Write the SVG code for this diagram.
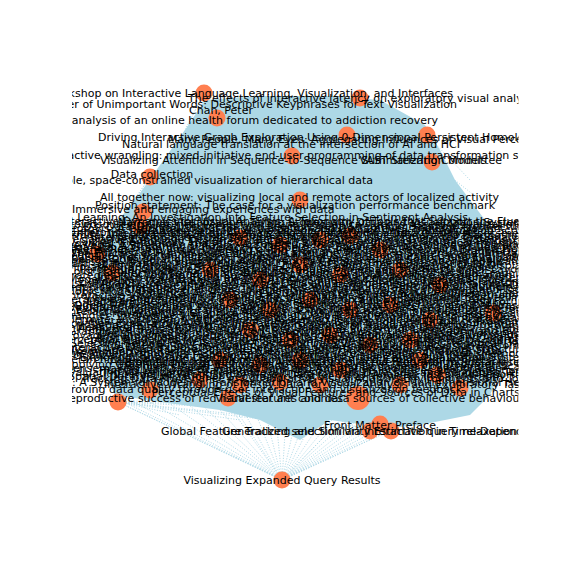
<svg xmlns="http://www.w3.org/2000/svg" width="576" height="576" viewBox="0 0 576 576">
<defs>
<clipPath id="ax"><rect x="72" y="69" width="446.4" height="443.5"/></clipPath>
<style>
.e{fill:none;stroke:#add8e6;stroke-width:1;stroke-dasharray:1 1.65}
.hull{fill:#add8e6;stroke:none}
.n{fill:#ff7f50}
text{font-family:"DejaVu Sans","Liberation Sans",sans-serif;font-size:11px;fill:#000}
.s{text-anchor:start}.m{text-anchor:middle}.r{text-anchor:end}
</style>
</defs>
<rect width="576" height="576" fill="#fff"/>
<g clip-path="url(#ax)">
<g id="edges">
<path class="hull" d="M205 100 L260 96 L330 96 L380 100 L425 125 L440 150 L455 180 L485 220 L505 260 L512 310 L506 360 L490 395 L470 415 L420 425 L390 428 L330 420 L300 440 L260 420 L220 410 L160 402 L115 395 L98 360 L96 300 L92 262 L110 230 L135 200 L160 165 L185 130 Z"/>
<path class="e" d="M282 480L110 395 M282 480L130 400 M282 480L150 402 M282 480L170 404 M282 480L190 406 M282 480L205 408 M282 480L220 410 M282 480L232 410 M282 480L244 412 M282 480L256 414 M282 480L266 416 M282 480L276 418 M282 480L286 418 M282 480L296 418 M282 480L306 416 M282 480L316 414 M282 480L328 412 M282 480L340 410 M282 480L352 408 M282 480L364 406 M282 480L378 404 M282 480L392 402 M282 480L408 400 M282 480L425 398 M282 480L442 396 M282 480L460 394 M282 480L480 390 M282 480L500 380 M282 480L118 402 M282 480L228 398 M282 480L360 400"/>
<path class="e" d="M118 402L200 398 M118 402L260 405 M118 402L320 412 M118 402L370 432 M118 402L390 430 M118 402L282 480 M118 402L240 420 M118 402L180 415"/>
<path class="e" d="M390 430L320 400 M390 430L350 395 M390 430L380 390 M390 430L410 395 M390 430L440 392 M390 430L470 400 M390 430L500 370 M370 432L300 405 M370 432L260 410 M370 432L200 405 M380 426L330 405 M380 426L420 398 M380 426L460 395"/>
<path class="e" d="M204 93L180 140 M204 93L165 170 M204 93L230 140 M204 93L270 130 M204 93L310 120 M360 98L330 130 M360 98L400 130 M360 98L440 140 M360 98L300 130 M217 118L170 160 M217 118L250 150 M427 135L470 180 M432 162L480 200 M432 162L500 240 M150 177L120 220 M150 177L100 250 M97 253L120 280 M112 273L130 300 M97 253L110 340 M112 273L105 370"/>
</g>
<g id="nodes">
<circle class="n" cx="204" cy="93" r="8.5"/>
<circle class="n" cx="360" cy="98" r="8.5"/>
<circle class="n" cx="217" cy="118" r="8.5"/>
<circle class="n" cx="347" cy="135" r="8.5"/>
<circle class="n" cx="427" cy="135" r="8.5"/>
<circle class="n" cx="432" cy="162" r="8.5"/>
<circle class="n" cx="292" cy="156" r="8.5"/>
<circle class="n" cx="150" cy="177" r="8.5"/>
<circle class="n" cx="300" cy="200" r="8.5"/>
<circle class="n" cx="143" cy="212" r="8.5"/>
<circle class="n" cx="140" cy="226" r="8.5"/>
<circle class="n" cx="97" cy="254" r="8.5"/>
<circle class="n" cx="112" cy="273" r="8.5"/>
<circle class="n" cx="118" cy="402" r="8.5"/>
<circle class="n" cx="150" cy="390" r="8.5"/>
<circle class="n" cx="228" cy="398" r="8.5"/>
<circle class="n" cx="358" cy="398" r="12"/>
<circle class="n" cx="380" cy="424" r="8.5"/>
<circle class="n" cx="370" cy="431" r="8.5"/>
<circle class="n" cx="391" cy="431" r="8.5"/>
<circle class="n" cx="282" cy="480" r="8.5"/>
<circle class="n" cx="240" cy="238" r="8.5"/><circle class="n" cx="280" cy="245" r="8.5"/><circle class="n" cx="320" cy="240" r="8.5"/><circle class="n" cx="350" cy="236" r="8.5"/><circle class="n" cx="380" cy="250" r="8.5"/>
<circle class="n" cx="210" cy="270" r="8.5"/><circle class="n" cx="260" cy="280" r="8.5"/><circle class="n" cx="300" cy="265" r="8.5"/><circle class="n" cx="340" cy="275" r="8.5"/><circle class="n" cx="400" cy="270" r="8.5"/><circle class="n" cx="440" cy="285" r="8.5"/>
<circle class="n" cx="230" cy="300" r="8.5"/><circle class="n" cx="270" cy="310" r="8.5"/><circle class="n" cx="310" cy="300" r="8.5"/><circle class="n" cx="350" cy="310" r="8.5"/><circle class="n" cx="390" cy="305" r="8.5"/><circle class="n" cx="430" cy="320" r="8.5"/><circle class="n" cx="493" cy="313" r="8.5"/>
<circle class="n" cx="250" cy="330" r="8.5"/><circle class="n" cx="290" cy="340" r="8.5"/><circle class="n" cx="330" cy="335" r="8.5"/><circle class="n" cx="370" cy="345" r="8.5"/><circle class="n" cx="410" cy="340" r="8.5"/>
<circle class="n" cx="220" cy="360" r="8.5"/><circle class="n" cx="260" cy="365" r="8.5"/><circle class="n" cx="300" cy="360" r="8.5"/><circle class="n" cx="340" cy="370" r="8.5"/><circle class="n" cx="420" cy="360" r="8.5"/><circle class="n" cx="437" cy="375" r="8.5"/>
<circle class="n" cx="200" cy="380" r="8.5"/><circle class="n" cx="240" cy="385" r="8.5"/><circle class="n" cx="280" cy="382" r="8.5"/><circle class="n" cx="320" cy="385" r="8.5"/><circle class="n" cx="400" cy="385" r="8.5"/><circle class="n" cx="460" cy="388" r="8.5"/>
</g>
<g id="labels">
<text class="r" x="453" y="97">Workshop on Interactive Language Learning, Visualization, and Interfaces</text>
<text class="s" x="188" y="102">The effects of interactive latency on exploratory visual analysis</text>
<text class="r" x="457" y="108">Without the Clutter of Unimportant Words: Descriptive Keyphrases for Text Visualization</text>
<text class="m" x="221" y="114">Chan, Peter</text>
<text class="r" x="438" y="124">Forum77: An analysis of an online health forum dedicated to addiction recovery</text>
<text class="s" x="98" y="141">Driving Interactive Graph Exploration Using 0-Dimensional Persistent Homology Features</text>
<text class="s" x="168" y="143">Many People, Many Eyes: Aggregating Influences of Visual Perception</text>
<text class="s" x="122" y="148">Natural language translation at the intersection of AI and HCI</text>
<text class="s" x="50" y="159">Proactive wrangling: mixed-initiative end-user programming of data transformation scripts</text>
<text class="s" x="100" y="164">Visualizing Attention in Sequence-to-Sequence Summarization Models</text>
<text class="r" x="502" y="164">VAST Steering Committee</text>
<text class="m" x="152" y="178">Data collection</text>
<text class="r" x="373" y="184">Scalable, space-constrained visualization of hierarchical data</text>
<text class="s" x="100" y="201">All together now: visualizing local and remote actors of localized activity</text>
<text class="s" x="95" y="209">Position statement: The case for a visualization performance benchmark</text>
<text class="s" x="72" y="213">Immersive and engaging experiences with data</text>
<text class="r" x="468" y="221">Learning: An Investigation into Feature Selection in Sentiment Analysis</text>
<text class="s" x="60" y="225">Interactive Dynamics for Visual Analysis: A Taxonomy of Tools that Support the Fluent and Flexible Use of Visualizations</text>
<text class="r" x="530" y="226">Narrative Visualization: Telling Stories with Data and Visualization Systems</text>
<text class="s" x="62" y="228">Crowdsourcing Graphical Perception: Using Mechanical Turk to Assess Visualization Design</text>
<text class="r" x="528" y="230">D3: Data-Driven Documents and Reactive Vega Streaming Dataflow Architecture</text>
<text class="s" x="66" y="232">Protovis: A Graphical Toolkit for Visualization and Declarative Language Design</text>
<text class="r" x="535" y="234">Wrangler: Interactive Visual Specification of Data Transformation Scripts</text>
<text class="s" x="70" y="236">Enterprise Data Analysis and Visualization: An Interview Study of Analysts</text>
<text class="r" x="530" y="237">Profiler: Integrated Statistical Analysis and Visualization for Data Quality Assessment</text>
<text class="s" x="60" y="239">Termite: Visualization Techniques for Assessing Textual Topic Models and Diagnostics</text>
<text class="r" x="532" y="241">Interpretation and Trust: Designing Model-Driven Visualizations for Text Analysis</text>
<text class="s" x="64" y="243">Declarative Language Design for Interactive Visualization and Graphics Systems</text>
<text class="r" x="534" y="245">Sizing the Horizon: The Effects of Chart Size and Layering on Graphical Perception</text>
<text class="s" x="68" y="247">Voyager: Exploratory Analysis via Faceted Browsing of Visualization Recommendations</text>
<text class="r" x="530" y="249">Reactive Vega: A Streaming Dataflow Architecture for Declarative Interactive Visualization</text>
<text class="s" x="62" y="251">Vega-Lite: A Grammar of Interactive Graphics for Exploratory Analysis and Design</text>
<text class="r" x="528" y="253">imMens: Real-time Visual Querying of Big Data at Interactive Rates with Binned Plots</text>
<text class="s" x="66" y="255">Lyra: An Interactive Visualization Design Environment for Custom Visualization Designs</text>
<text class="r" x="536" y="257">The Efficacy of Human Post-Editing for Language Translation Systems and Interfaces</text>
<text class="s" x="60" y="259">Predictive Translation Memory: A Mixed-Initiative System for Human Language Translation</text>
<text class="r" x="530" y="261">Graphical Histories for Visualization: Supporting Analysis, Communication, and Evaluation</text>
<text class="s" x="70" y="263">Design Considerations for Collaborative Visual Analytics and Social Data Analysis</text>
<text class="r" x="532" y="265">Voyagers and Voyeurs: Supporting Asynchronous Collaborative Information Visualization</text>
<text class="s" x="64" y="267">Multi-Scale Banking to 45 Degrees for Line Charts and Time Series Visualization</text>
<text class="r" x="528" y="269">A Tour through the Visualization Zoo of Graphical Techniques for Data Display</text>
<text class="s" x="62" y="271">Animated Transitions in Statistical Data Graphics and Visual Perception Studies</text>
<text class="r" x="534" y="273">Perceptual Guidelines for Creating Rectangular Treemaps and Hierarchical Layouts</text>
<text class="s" x="66" y="275">Color Naming Models for Color Selection, Image Editing and Palette Design</text>
<text class="r" x="530" y="277">Selecting Semantically-Resonant Colors for Data Visualization and Graphics</text>
<text class="s" x="60" y="279">Strategies for Crowdsourcing Social Data Analysis and Collaborative Sensemaking</text>
<text class="r" x="532" y="281">Interactive Data Exploration with Recommendations and Visualization Systems</text>
<text class="s" x="68" y="283">Model-Driven Visualizations for Text Analysis and Topic Model Diagnostics Tools</text>
<text class="r" x="528" y="285">Exploratory Data Analysis with Visual Encodings and Statistical Graphics Systems</text>
<text class="s" x="64" y="287">Visual Analysis of Large-Scale Network Data and Heterogeneous Network Structures</text>
<text class="r" x="536" y="289">Mixed-Initiative Interfaces for Data Cleaning and Transformation of Tabular Data</text>
<text class="s" x="62" y="291">Graphical Perception of Multiple Time Series and Horizon Graphs in Small Multiples</text>
<text class="r" x="530" y="293">Tracking Data Provenance in Collaborative Visual Analysis Environments and Tools</text>
<text class="s" x="70" y="295">Topic Model Diagnostics: Assessing Domain Relevance via Topical Alignment</text>
<text class="r" x="532" y="297">Statistical Analysis and Visualization of Sensemaking Activities in Teams</text>
<text class="s" x="66" y="299">Interactive Visual Querying of Big Data and Scalable Binned Aggregation Methods</text>
<text class="r" x="528" y="301">Visualization Rhetoric: Framing Effects in Narrative Visualization and Storytelling</text>
<text class="s" x="60" y="303">Hierarchical Aggregation for Information Visualization and Exploration of Trees</text>
<text class="r" x="534" y="305">Local and Remote Actors of Localized Activity in Online Communities and Forums</text>
<text class="s" x="68" y="307">Spatial Data Visualization of Geographic Features and Networks in Cartography</text>
<text class="r" x="530" y="309">Query Relaxation and Visual Search for Structured Data Collections and Databases</text>
<text class="s" x="62" y="311">Evaluating Visualization Performance with Benchmark Data Sets and Rendering Tests</text>
<text class="r" x="532" y="313">Exploring Language Learning with Interactive Interfaces and Visualization Systems</text>
<text class="s" x="66" y="315">Interactive Dynamics for Visual Analysis: A Taxonomy of Tools for Fluent Use</text>
<text class="r" x="530" y="317">Crowdsourcing Graphical Perception: Using Mechanical Turk to Assess Design</text>
<text class="s" x="60" y="319">Wrangler: Interactive Visual Specification of Data Transformation Scripts and Rules</text>
<text class="r" x="534" y="321">Profiler: Integrated Statistical Analysis and Visualization for Data Quality</text>
<text class="s" x="70" y="323">Termite: Visualization Techniques for Assessing Textual Topic Models in Practice</text>
<text class="r" x="528" y="325">Declarative Language Design for Interactive Visualization and Graphics Programs</text>
<text class="s" x="64" y="327">Voyager: Exploratory Analysis via Faceted Browsing of Visualization Recommendations</text>
<text class="r" x="536" y="329">Vega-Lite: A Grammar of Interactive Graphics for Rapid Visualization Prototyping</text>
<text class="s" x="62" y="331">imMens: Real-time Visual Querying of Big Data with Multivariate Data Tiles</text>
<text class="r" x="530" y="333">Predictive Translation Memory: A Mixed-Initiative System for Language Translation</text>
<text class="s" x="68" y="335">Graphical Histories for Visualization: Supporting Analysis, Communication and Evaluation</text>
<text class="r" x="532" y="337">Design Considerations for Collaborative Visual Analytics in Shared Workspaces</text>
<text class="s" x="66" y="339">Voyagers and Voyeurs: Supporting Asynchronous Collaborative Visualization on the Web</text>
<text class="r" x="528" y="341">Animated Transitions in Statistical Data Graphics for Presentation and Analysis</text>
<text class="s" x="60" y="343">Perceptual Guidelines for Creating Rectangular Treemaps with Aspect Ratio Control</text>
<text class="r" x="534" y="345">Color Naming Models for Color Selection, Image Editing and Palette Design Tools</text>
<text class="s" x="70" y="347">Selecting Semantically-Resonant Colors for Data Visualization and Categorical Data</text>
<text class="r" x="530" y="349">Strategies for Crowdsourcing Social Data Analysis and Discussion Platforms</text>
<text class="s" x="64" y="351">Interactive Data Exploration with Recommendations and Visualization Systems</text>
<text class="r" x="532" y="353">Visual Analysis of Large-Scale Network Data and Heterogeneous Network Structures</text>
<text class="s" x="62" y="355">Mixed-Initiative Interfaces for Data Cleaning and Transformation of Tabular Data</text>
<text class="r" x="528" y="357">Topic Model Diagnostics: Assessing Domain Relevance via Topical Alignment Methods</text>
<text class="s" x="66" y="359">Visualization Rhetoric: Framing Effects in Narrative Visualization and Journalism</text>
<text class="r" x="536" y="361">Exploring Language Learning with Interactive Interfaces and Visualization Systems</text>
<text class="s" x="60" y="363">Hierarchical Aggregation for Information Visualization and Exploration of Trees</text>
<text class="s" x="110" y="365">Augmenting Code with In Situ Visualizations to Aid Program Understanding</text>
<text class="r" x="536" y="366">Biologically Inspired Visual Analysis of Collective Behavior in Social Insects</text>
<text class="s" x="64" y="368">Applying Graphical Design Techniques to Visual Analysis of Data and Documents</text>
<text class="r" x="530" y="370">Designing Visual Analysis Tools for Text and Document Collections at Scale</text>
<text class="s" x="66" y="372">Sensemaking with Shared Visualizations and Annotation Tools for Collaboration</text>
<text class="r" x="528" y="374">Human Language Translation with Mixed-Initiative Interfaces and Suggestions</text>
<text class="s" x="62" y="376">Evaluating Visualization Performance with Benchmark Data Sets and Rendering Tests</text>
<text class="r" x="532" y="378">Interactive Wrangling of Messy Data for Visual Analysis Tasks and Reporting</text>
<text class="s" x="68" y="380">Spatial Data Visualization of Geographic Features and Networks in Cartography</text>
<text class="r" x="534" y="382">Tracking Data Provenance in Collaborative Visual Analysis Environments and Tools</text>
<text class="s" x="42" y="386">Orion: A System for Modeling, Transformation and Visualization of Multidimensional Heterogeneous Networks</text>
<text class="r" x="532" y="388">Interactive Wrangling of Messy Data for Visual Analysis and Exploratory Tasks</text>
<text class="s" x="50" y="393">Improving data quality through user interaction and visualization feedback</text>
<text class="r" x="520" y="396">Perceptual Effects of Visual Features and Sources of Data in Charts</text>
<text class="r" x="343" y="402">Collective foraging and the reproductive success of red harvester ant colonies</text>
<text class="r" x="524" y="402">Visual features and data sources of collective behaviour</text>
<text class="m" x="380" y="429">Front Matter Preface</text>
<text class="s" x="161" y="435">Global Feature Tracking and Similarity Estimation in Time-Dependent Scalar Fields</text>
<text class="s" x="222" y="435">Generalized selection via interactive query relaxation</text>
<text class="m" x="282" y="484">Visualizing Expanded Query Results</text>
</g>
</g>
</svg>
